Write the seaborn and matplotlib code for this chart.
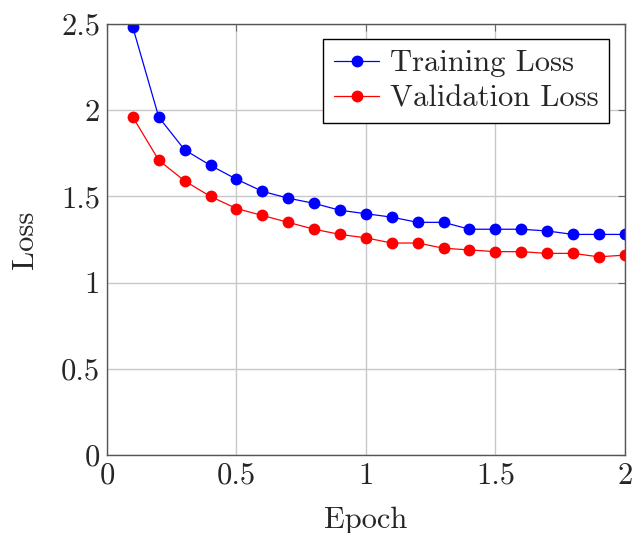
import pandas as pd
import matplotlib.pyplot as plt
import seaborn as sns

epochs = [0.1, 0.2, 0.3, 0.4, 0.5, 0.6, 0.7, 0.8, 0.9, 1.0,
          1.1, 1.2, 1.3, 1.4, 1.5, 1.6, 1.7, 1.8, 1.9, 2.0]
train_loss = [2.48, 1.96, 1.77, 1.68, 1.60, 1.53, 1.49, 1.46, 1.42, 1.40,
              1.38, 1.35, 1.35, 1.31, 1.31, 1.31, 1.30, 1.28, 1.28, 1.28]
val_loss = [1.96, 1.71, 1.59, 1.50, 1.43, 1.39, 1.35, 1.31, 1.28, 1.26,
            1.23, 1.23, 1.20, 1.19, 1.18, 1.18, 1.17, 1.17, 1.15, 1.16]
series_names = ["Training Loss", "Validation Loss"]

df = pd.DataFrame({
    "Epoch": epochs * 2,
    "Loss": train_loss + val_loss,
    "Series": [series_names[0]] * len(epochs) + [series_names[1]] * len(epochs),
})

sns.set_style("white")
plt.rcParams["font.family"] = "serif"
plt.rcParams["font.serif"] = ["cmr10", "DejaVu Serif"]
plt.rcParams["mathtext.fontset"] = "cm"
plt.rcParams["axes.formatter.use_mathtext"] = True

fs = 22
fig = plt.figure(figsize=(6.33, 5.33), dpi=100)
ax = fig.add_axes([0.169, 0.146, 0.818, 0.809])

sns.lineplot(data=df, x="Epoch", y="Loss", hue="Series", ax=ax,
             palette={series_names[0]: "blue", series_names[1]: "red"},
             marker="o", markersize=8.5, markeredgewidth=0, linewidth=0.9)

ax.set_xlim(0, 2)
ax.set_ylim(0, 2.5)
ax.set_xticks([0, 0.5, 1, 1.5, 2])
ax.set_xticklabels(["0", "0.5", "1", "1.5", "2"])
ax.set_yticks([0, 0.5, 1, 1.5, 2, 2.5])
ax.set_yticklabels(["0", "0.5", "1", "1.5", "2", "2.5"])
ax.grid(True, color="#c8c8c8", linewidth=1.0)
ax.set_axisbelow(True)
ax.tick_params(direction="in", length=5, width=0.8, color="#666666",
               labelsize=fs, top=True, right=True, pad=5)
for s in ax.spines.values():
    s.set_color("#555555")
    s.set_linewidth(1.0)

ax.set_xlabel("Epoch", fontsize=fs, labelpad=12)
ax.set_ylabel("Loss", fontsize=fs, labelpad=16)

leg = ax.legend(loc="upper right", fontsize=fs, frameon=True, fancybox=False,
                edgecolor="black", framealpha=1, borderpad=0.35,
                handlelength=1.5, handletextpad=0.35, labelspacing=0.25,
                borderaxespad=0.5, markerscale=1.0)
leg.get_frame().set_linewidth(1.0)

plt.savefig("out.png", dpi=100)
